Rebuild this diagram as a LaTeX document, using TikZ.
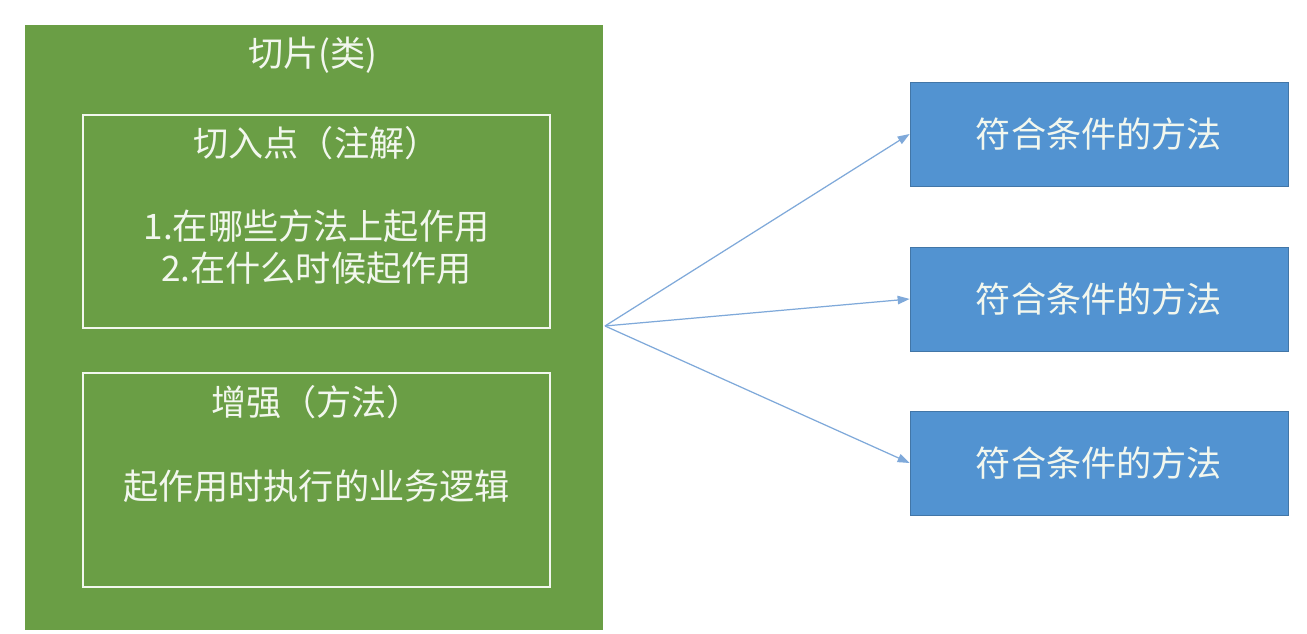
\documentclass[tikz,border=0pt]{standalone}
\usepackage{fontspec}
\setmainfont{Noto Sans CJK SC}
\usepackage{tikz}
\usepackage{xcolor}
\usetikzlibrary{arrows.meta, positioning}
\definecolor{AOP_Green}{HTML}{6A9E45}
\definecolor{AOP_Blue}{HTML}{5293D1}
\definecolor{AOP_Line}{HTML}{7FA9DA}
\definecolor{AOP_Text}{HTML}{F2F7EE}

\begin{document}
\begin{tikzpicture}[
    slice/.style={minimum width=11.56cm, minimum height=12.1cm, fill=AOP_Green, draw=none, anchor=center},
    panel/.style={minimum width=9.34cm, minimum height=4.27cm, draw=AOP_Text, line width=1.2pt, anchor=center},
    label/.style={text=AOP_Text, font=\fontsize{20}{24}\selectfont, align=center},
    target/.style={minimum width=7.56cm, minimum height=2.08cm, fill=AOP_Blue, draw=AOP_Blue!80!black, line width=0.4pt, text=AOP_Text, font=\fontsize{20}{24}\selectfont, anchor=center},
    link/.style={-{Triangle[length=2.4mm, width=1.7mm]}, draw=AOP_Line, line width=0.7pt}
]
\useasboundingbox[fill=white] (0,0) rectangle (26.14,12.68);
% aspect (class)
\node[slice] (aspect) at (6.28, 6.13) {};
\node[label] (aspecttitle) at (6.26, 11.58) {切片(类)};
% pointcut
\node[panel] (pointcut) at (6.33, 8.25) {};
\node[label] (pointcuttitle) at (6.33, 9.82) {切入点（注解）};
\node[label] (pointcutbody) at (6.33, 7.74) {1.在哪些方法上起作用\\2.在什么时候起作用};
% advice
\node[panel] (advice) at (6.33, 3.08) {};
\node[label] (advicetitle) at (6.33, 4.64) {增强（方法）};
\node[label] (advicebody) at (6.33, 2.96) {起作用时执行的业务逻辑};
% matched methods
\node[target] (methodA) at (21.98, 10.0) {符合条件的方法};
\node[target] (methodB) at (21.98, 6.7) {符合条件的方法};
\node[target] (methodC) at (21.98, 3.42) {符合条件的方法};
\coordinate (fork) at (12.1, 6.16);
\draw[link] (fork) -- (methodA.west);
\draw[link] (fork) -- (methodB.west);
\draw[link] (fork) -- (methodC.west);
\end{tikzpicture}
\end{document}
